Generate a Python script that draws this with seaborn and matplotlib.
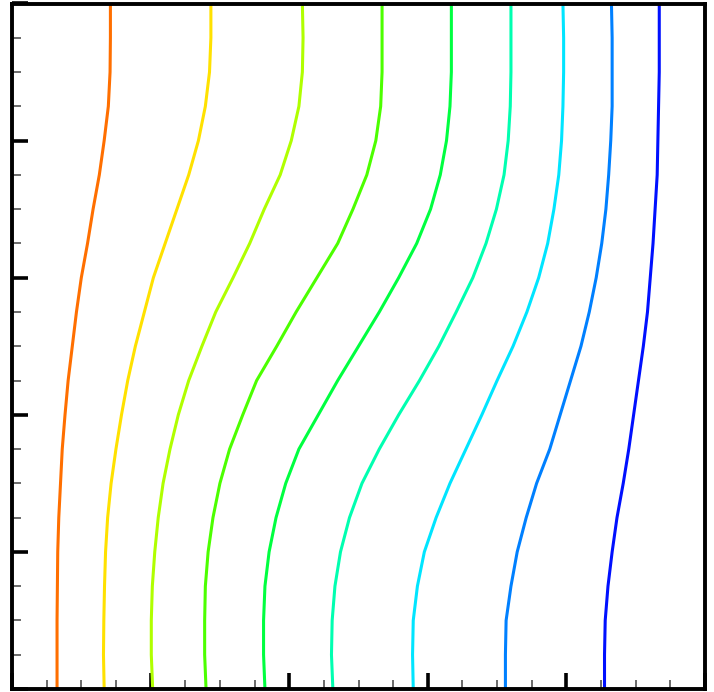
import numpy as np
import pandas as pd
import seaborn as sns
import matplotlib.pyplot as plt
from matplotlib.ticker import MultipleLocator

y_levels = [0.0, 0.05, 0.10, 0.15, 0.20, 0.25, 0.30, 0.35, 0.40, 0.45, 0.50,
            0.55, 0.60, 0.65, 0.70, 0.75, 0.80, 0.85, 0.90, 0.95, 1.0]

# x position of each isoline at those heights
line_orange = [0.065, 0.065, 0.065, 0.0655, 0.066, 0.0675, 0.070, 0.0725, 0.0765, 0.081, 0.087,
               0.093, 0.100, 0.109, 0.117, 0.126, 0.133, 0.139, 0.1415, 0.142, 0.142]
line_yellow = [0.133, 0.132, 0.1325, 0.1335, 0.135, 0.138, 0.143, 0.150, 0.158, 0.167, 0.178,
               0.191, 0.204, 0.221, 0.238, 0.255, 0.269, 0.279, 0.285, 0.287, 0.287]
line_ygreen = [0.203, 0.201, 0.201, 0.2025, 0.206, 0.211, 0.218, 0.228, 0.240, 0.255, 0.274,
               0.294, 0.319, 0.343, 0.364, 0.387, 0.403, 0.414, 0.419, 0.420, 0.419]
line_green = [0.280, 0.278, 0.278, 0.279, 0.283, 0.290, 0.300, 0.314, 0.333, 0.353, 0.382,
              0.410, 0.440, 0.470, 0.492, 0.512, 0.525, 0.532, 0.534, 0.534, 0.534]
line_green2 = [0.365, 0.363, 0.363, 0.365, 0.371, 0.381, 0.395, 0.414, 0.442, 0.470, 0.500,
               0.530, 0.558, 0.584, 0.604, 0.618, 0.627, 0.632, 0.634, 0.634, 0.634]
line_teal = [0.463, 0.461, 0.462, 0.466, 0.474, 0.487, 0.505, 0.530, 0.558, 0.588, 0.616,
             0.641, 0.665, 0.684, 0.699, 0.710, 0.716, 0.719, 0.720, 0.720, 0.720]
line_cyan = [0.579, 0.578, 0.579, 0.585, 0.595, 0.612, 0.632, 0.655, 0.678, 0.700, 0.723,
             0.743, 0.760, 0.773, 0.782, 0.789, 0.793, 0.795, 0.796, 0.796, 0.795]
line_blue = [0.712, 0.712, 0.713, 0.720, 0.729, 0.742, 0.757, 0.776, 0.791, 0.806, 0.821,
             0.833, 0.843, 0.851, 0.857, 0.861, 0.864, 0.866, 0.866, 0.866, 0.865]
line_dblue = [0.855, 0.855, 0.856, 0.860, 0.866, 0.873, 0.882, 0.890, 0.897, 0.904, 0.911,
              0.917, 0.921, 0.925, 0.928, 0.931, 0.932, 0.933, 0.934, 0.934, 0.934]

lines = [line_orange, line_yellow, line_ygreen, line_green, line_green2,
         line_teal, line_cyan, line_blue, line_dblue]
colors = ['#ff6f00', '#ffe100', '#b0ff00', '#4cff00', '#00ff40',
          '#00ffb0', '#00e5ff', '#0080ff', '#0010ff']

rows = []
for i, xs in enumerate(lines):
    for xv, yv in zip(xs, y_levels):
        rows.append({'x': xv, 'y': yv, 'level': i})
df = pd.DataFrame(rows)

sns.set_style('white')
fig = plt.figure(figsize=(7.14, 6.92), dpi=100)
ax = fig.add_axes([12 / 714, 3 / 692, 693 / 714, 685.5 / 692])

sns.lineplot(data=df, x='x', y='y', hue='level', palette=colors, sort=False,
             estimator=None, legend=False, linewidth=2.2, ax=ax)

ax.set_xlim(0, 1)
ax.set_ylim(0, 1)
ax.xaxis.set_major_locator(MultipleLocator(0.2))
ax.xaxis.set_minor_locator(MultipleLocator(0.05))
ax.yaxis.set_major_locator(MultipleLocator(0.2))
ax.yaxis.set_minor_locator(MultipleLocator(0.05))
ax.tick_params(which='major', direction='in', length=11.5, width=2.6, color='black',
               labelbottom=False, labelleft=False, bottom=True, left=True)
ax.tick_params(which='minor', direction='in', length=6.5, width=1.1,
               bottom=True, left=True, color='#444444')
ax.set_xlabel('')
ax.set_ylabel('')
for s in ax.spines.values():
    s.set_linewidth(2.8)
    s.set_color('black')

fig.savefig('out.png', dpi=100)
